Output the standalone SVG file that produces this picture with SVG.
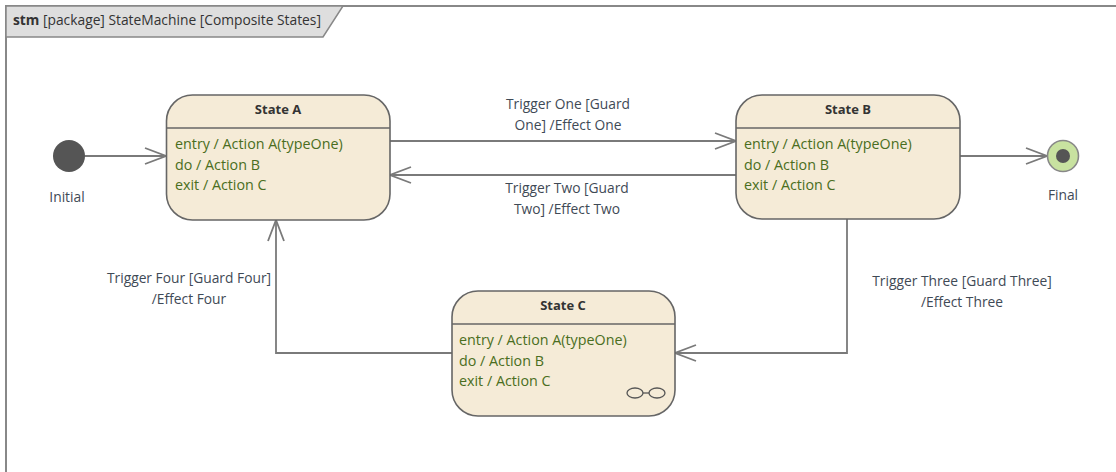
<svg xmlns="http://www.w3.org/2000/svg" width="1116" height="472" viewBox="0 0 1116 472">
<style>
text{font-family:"Open Sans","Noto Sans","Liberation Sans",sans-serif;font-size:13.8px}
.st{fill:#f5ebd7;stroke:#666;stroke-width:1.6}
.dv{stroke:#666;stroke-width:1.6}
.ti{font-weight:bold;fill:#333;text-anchor:middle;font-size:13px}
.ac{fill:#4a6e21;font-size:14.3px}
.lb{fill:#3f4a56;text-anchor:middle}
.cn{fill:none;stroke:#7a7a7a;stroke-width:1.8}
</style>
<defs>
<marker id="ah" markerWidth="24" markerHeight="20" refX="22" refY="10" orient="auto" markerUnits="userSpaceOnUse">
<path d="M1,2 L22,10 L1,18" fill="none" stroke="#7a7a7a" stroke-width="1.8"/>
</marker>
</defs>
<rect width="1116" height="472" fill="#fff"/>
<g id="frame">
<rect x="6" y="6" width="1130" height="480" fill="none" stroke="#888" stroke-width="2"/>
<path d="M6,6 L343,6 L323,37 L6,37 Z" fill="#dedede" stroke="#888" stroke-width="1.5"/>
<text x="13" y="25" fill="#333" font-size="14px"><tspan font-weight="bold">stm</tspan> [package] StateMachine [Composite States]</text>
</g>
<g id="connectors">
<path class="cn" d="M85,156 L166,156" marker-end="url(#ah)"/>
<path class="cn" d="M390,141 L736,141" marker-end="url(#ah)"/>
<path class="cn" d="M736,175 L390,175" marker-end="url(#ah)"/>
<path class="cn" d="M960,156 L1047,156" marker-end="url(#ah)"/>
<path class="cn" d="M847,219 L847,353 L675,353" marker-end="url(#ah)"/>
<path class="cn" d="M452,353 L276,353 L276,220" marker-end="url(#ah)"/>
<text class="lb" x="568" y="109">Trigger One [Guard</text>
<text class="lb" x="568" y="130">One] /Effect One</text>
<text class="lb" x="567" y="193">Trigger Two [Guard</text>
<text class="lb" x="567" y="214">Two] /Effect Two</text>
<text class="lb" x="962" y="286">Trigger Three [Guard Three]</text>
<text class="lb" x="962" y="307">/Effect Three</text>
<text class="lb" x="189" y="283">Trigger Four [Guard Four]</text>
<text class="lb" x="189" y="304">/Effect Four</text>
</g>
<g id="initial">
<circle cx="69" cy="156" r="16" fill="#555"/>
<text class="lb" x="67" y="202">Initial</text>
</g>
<g id="final">
<circle cx="1063" cy="156" r="15.5" fill="#c8e2a0" stroke="#888" stroke-width="1.6"/>
<circle cx="1063" cy="156" r="7" fill="#555"/>
<text class="lb" x="1063" y="200">Final</text>
</g>
<g id="stateA">
<rect class="st" x="166.5" y="95" width="223.5" height="125" rx="26"/>
<line class="dv" x1="166.5" y1="128" x2="390" y2="128"/>
<text class="ti" x="278" y="114">State A</text>
<text class="ac" x="175" y="149">entry / Action A(typeOne)</text>
<text class="ac" x="175" y="170">do / Action B</text>
<text class="ac" x="175" y="190">exit / Action C</text>
</g>
<g id="stateB">
<rect class="st" x="736" y="95" width="224" height="124" rx="26"/>
<line class="dv" x1="736" y1="128" x2="960" y2="128"/>
<text class="ti" x="848" y="114">State B</text>
<text class="ac" x="744" y="149">entry / Action A(typeOne)</text>
<text class="ac" x="744" y="170">do / Action B</text>
<text class="ac" x="744" y="190">exit / Action C</text>
</g>
<g id="stateC">
<rect class="st" x="452" y="291" width="223" height="125" rx="26"/>
<line class="dv" x1="452" y1="324" x2="675" y2="324"/>
<text class="ti" x="563" y="310">State C</text>
<text class="ac" x="459" y="345">entry / Action A(typeOne)</text>
<text class="ac" x="459" y="366">do / Action B</text>
<text class="ac" x="459" y="386">exit / Action C</text>
<g fill="none" stroke="#555" stroke-width="1.3">
<ellipse cx="635" cy="393" rx="8" ry="5"/>
<ellipse cx="657" cy="393" rx="8" ry="5"/>
<line x1="643" y1="393" x2="649" y2="393"/>
</g>
</g>
</svg>
